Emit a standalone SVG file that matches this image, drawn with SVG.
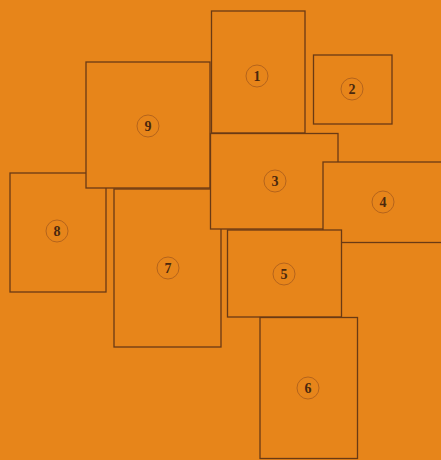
<svg xmlns="http://www.w3.org/2000/svg" width="441" height="460" viewBox="0 0 441 460">
<style>
.r{fill:#E7851A;stroke:#6A3A14;stroke-width:1.3}
.c{fill:none;stroke:#B5641C;stroke-width:1}
.t{font-family:"Liberation Serif","DejaVu Serif",serif;font-size:14px;font-weight:bold;fill:#4A280E;text-anchor:middle;dominant-baseline:central}
</style>
<rect x="0" y="0" width="441" height="460" fill="#E7851A"/>
<g id="n8"><rect class="r" x="10" y="173" width="96" height="119"/><circle class="c" cx="57" cy="231" r="11"/><text class="t" x="57" y="231">8</text></g>
<g id="n9"><rect class="r" x="86" y="62" width="124" height="126"/><circle class="c" cx="148" cy="126" r="11"/><text class="t" x="148" y="126">9</text></g>
<g id="n1"><rect class="r" x="211.5" y="11" width="93.5" height="122"/><circle class="c" cx="257" cy="76" r="11"/><text class="t" x="257" y="76">1</text></g>
<g id="n7"><rect class="r" x="114" y="189" width="107" height="158"/><circle class="c" cx="168" cy="268" r="11"/><text class="t" x="168" y="268">7</text></g>
<g id="n3"><rect class="r" x="210.5" y="133.5" width="127.5" height="95.5"/><circle class="c" cx="275" cy="181" r="11"/><text class="t" x="275" y="181">3</text></g>
<g id="n4"><rect class="r" x="323" y="162" width="130" height="80.5"/><circle class="c" cx="383" cy="202" r="11"/><text class="t" x="383" y="202">4</text></g>
<g id="n2"><rect class="r" x="313.5" y="55" width="78.5" height="69"/><circle class="c" cx="352" cy="89" r="11"/><text class="t" x="352" y="89">2</text></g>
<g id="n5"><rect class="r" x="227.5" y="230" width="114" height="87"/><circle class="c" cx="284" cy="274" r="11"/><text class="t" x="284" y="274">5</text></g>
<g id="n6"><rect class="r" x="260" y="317.5" width="97.5" height="141"/><circle class="c" cx="308" cy="388" r="11"/><text class="t" x="308" y="388">6</text></g>
<g id="connectors"></g>
</svg>
